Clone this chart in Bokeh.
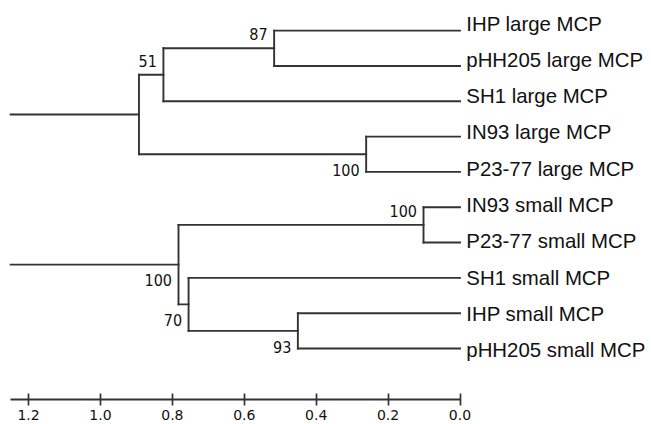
from bokeh.plotting import figure
from bokeh.models import Range1d, FixedTicker, NumeralTickFormatter, ColumnDataSource
from bokeh.core.properties import value
from bokeh.embed import file_html
from bokeh.resources import INLINE

# ---- data ----
leaves = ["IHP large MCP", "pHH205 large MCP", "SH1 large MCP", "IN93 large MCP",
          "P23-77 large MCP", "IN93 small MCP", "P23-77 small MCP", "SH1 small MCP",
          "IHP small MCP", "pHH205 small MCP"]

node_names = ["L1", "L2", "L3", "L4", "S1", "S2", "S3", "S4"]
node_heights = [0.517, 0.825, 0.261, 0.893, 0.1015, 0.451, 0.755, 0.783]
node_upper = ["IHP large MCP", "L1", "IN93 large MCP", "L2",
              "IN93 small MCP", "IHP small MCP", "SH1 small MCP", "S1"]
node_lower = ["pHH205 large MCP", "SH1 large MCP", "P23-77 large MCP", "L3",
              "P23-77 small MCP", "pHH205 small MCP", "S2", "S3"]
node_support = ["87", "51", "100", "", "100", "93", "70", "100"]
root_nodes = ["L4", "S4"]
root_stem = 1.25

ticks = [0.0, 0.2, 0.4, 0.6, 0.8, 1.0, 1.2]

# ---- tree geometry ----
ypos = {name: float(i) for i, name in enumerate(leaves)}
xpos = {name: 0.0 for name in leaves}
for n, h, a, b in zip(node_names, node_heights, node_upper, node_lower):
    xpos[n] = h
    ypos[n] = (ypos[a] + ypos[b]) / 2.0

x0, y0, x1, y1 = [], [], [], []
for n, a, b in zip(node_names, node_upper, node_lower):
    x0.append(xpos[n]); y0.append(ypos[a]); x1.append(xpos[n]); y1.append(ypos[b])
    for c in (a, b):
        x0.append(xpos[c]); y0.append(ypos[c]); x1.append(xpos[n]); y1.append(ypos[c])
for r in root_nodes:
    x0.append(root_stem); y0.append(ypos[r]); x1.append(xpos[r]); y1.append(ypos[r])

seg_src = ColumnDataSource(dict(x0=x0, y0=y0, x1=x1, y1=y1))

ab_x, ab_y, ab_t, bl_x, bl_y, bl_t = [], [], [], [], [], []
for n, s in zip(node_names, node_support):
    if not s:
        continue
    if n in node_upper:
        ab_x.append(xpos[n]); ab_y.append(ypos[n]); ab_t.append(s)
    else:
        bl_x.append(xpos[n]); bl_y.append(ypos[n]); bl_t.append(s)

# ---- figure ----
W, H = 651, 424
sx0, kx = 459.5, 359.5       # px of 0.0, px per unit
sy0, ky = 30.14, 35.32       # px of first leaf line, px per leaf
ly0, lky = 23.0, 36.3        # px of first leaf label, px per label
axis_px = 399.3

p = figure(width=W, height=H, output_backend="svg", toolbar_location=None,
           x_range=Range1d(sx0 / kx, (sx0 - W) / kx),
           y_range=Range1d((H - sy0) / ky, -sy0 / ky),
           y_axis_location=None, min_border_left=0, min_border_right=0,
           min_border_top=0, min_border_bottom=0)
p.extra_y_ranges = {"labels": Range1d((H - ly0) / lky, -ly0 / lky)}
p.outline_line_color = None
p.grid.visible = False
p.background_fill_color = "white"
p.border_fill_color = "white"

line_col = "#333333"
p.segment("x0", "y0", "x1", "y1", source=seg_src, line_color=line_col,
          line_width=1.9, line_cap="square")

p.text(x=[0.0] * len(leaves), y=list(range(len(leaves))), text=leaves,
       y_range_name="labels",
       x_offset=6.3, text_baseline="middle", text_align="left",
       text_font=value("Liberation Sans"), text_font_size="20.4px", text_color="#111111")

p.text(x=ab_x, y=ab_y, text=ab_t, x_offset=-6.5, y_offset=-14,
       text_baseline="middle", text_align="right",
       text_font=value("DejaVu Sans Condensed"), text_font_size="16px", text_color="#111111")
p.text(x=bl_x, y=bl_y, text=bl_t, x_offset=-6.5, y_offset=15.7,
       text_baseline="middle", text_align="right",
       text_font=value("DejaVu Sans Condensed"), text_font_size="16px", text_color="#111111")

ax = p.xaxis[0]
ax.fixed_location = (axis_px - sy0) / ky
ax.ticker = FixedTicker(ticks=ticks)
ax.formatter = NumeralTickFormatter(format="0.0")
ax.bounds = (0.0, root_stem)
ax.axis_line_color = line_col
ax.axis_line_width = 1.9
ax.major_tick_line_color = line_col
ax.major_tick_line_width = 1.7
ax.major_tick_in = 6
ax.major_tick_out = 6
ax.minor_tick_line_color = None
ax.major_label_standoff = 4
ax.major_label_text_font = "DejaVu Sans"
ax.major_label_text_font_size = "14px"
ax.major_label_text_color = "#111111"

open("out.html", "w").write(file_html(p, INLINE))
